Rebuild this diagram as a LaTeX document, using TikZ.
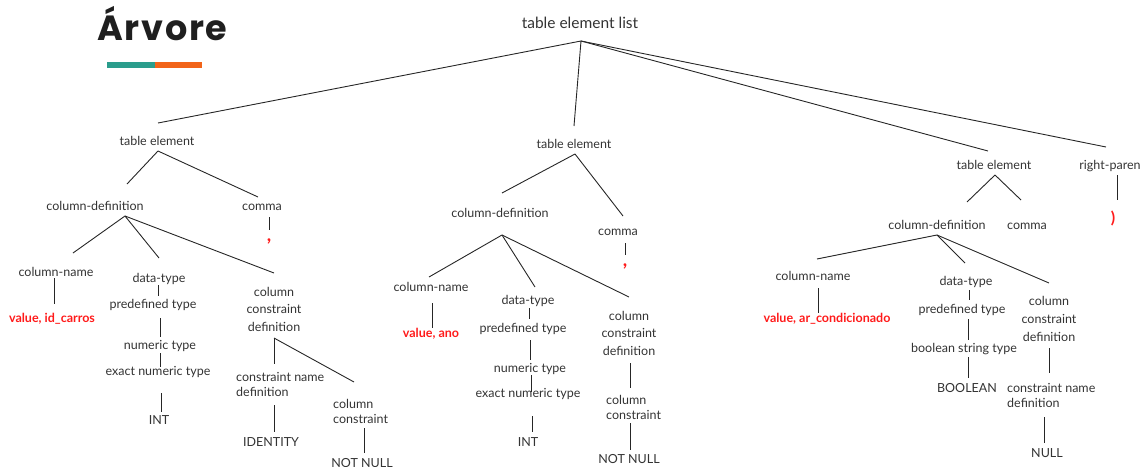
\documentclass[tikz,border=0pt]{standalone}
\usepackage{fontspec}
\setmainfont{Lato}
\newfontfamily\titlefont{Poppins}[LetterSpace=5]
\definecolor{txt}{HTML}{333333}
\definecolor{hot}{HTML}{FF1A1A}
\definecolor{teal}{HTML}{2A9D8C}
\definecolor{tangerine}{HTML}{F26419}
\begin{document}
\begin{tikzpicture}[x=1pt,y=-1pt,
  lbl/.style={inner sep=0pt, anchor=base, text=txt, font=\fontsize{12.5}{15}\selectfont},
  % multi-line labels sit on the baseline of their last line
  multi/.style={lbl, align=center, font=\fontsize{12.5}{#1}\selectfont},
  multil/.style={lbl, align=left, anchor=base west, font=\fontsize{12.5}{#1}\selectfont},
  val/.style={inner sep=0pt, anchor=base, text=hot, font=\fontsize{12.5}{15}\selectfont\bfseries},
  punct/.style={val, font=\fontsize{19}{20}\selectfont\bfseries},
  edge/.style={draw=black!85, line width=0.9pt}]
\useasboundingbox (0,0) rectangle (1145,466);

% heading
\node[inner sep=0pt, anchor=base west, text=black!88, font=\fontsize{35}{40}\selectfont\titlefont\bfseries] (title) at (97,40) {Árvore};
\fill[teal] (107,62) rectangle (155,68);
\fill[tangerine] (155,62) rectangle (202,68);

% root
\node[lbl, font=\fontsize{15.5}{18}\selectfont] (root) at (580,28) {table element list};
\node[lbl] (te1) at (157,145) {table element};
\node[lbl] (te2) at (574,148) {table element};
\node[lbl] (te3) at (994,169) {table element};
\node[lbl] (rp) at (1110,169) {right-paren};
\node[val, font=\fontsize{16}{18}\selectfont\bfseries] (rpv) at (1113,223) {)};

% first table element
\node[lbl] (cd1) at (95,210) {column-definition};
\node[lbl] (cm1) at (262,210) {comma};
\node[punct] (cmv1) at (269,241) {,};
\node[lbl] (cn1) at (56,276) {column-name};
\node[val] (v1) at (52,322) {value, id\_carros};
\node[lbl] (dt1) at (159,282) {data-type};
\node[lbl] (pt1) at (153,308) {predefined type};
\node[lbl] (nt1) at (160,349) {numeric type};
\node[lbl] (ent1) at (158,375) {exact numeric type};
\node[lbl] (int1) at (159,424) {INT};
\node[multi=17.5] (ccd1) at (274,331) {column\\constraint\\definition};
\node[multil=15] (cnd1) at (236,396) {constraint name\\definition};
\node[lbl] (id1) at (271,446) {IDENTITY};
\node[multil=15] (cc1) at (333,423) {column\\constraint};
\node[lbl] (nn1) at (362,467) {NOT NULL};

% second table element
\node[lbl] (cd2) at (500,217) {column-definition};
\node[lbl] (cm2) at (618,235) {comma};
\node[punct] (cmv2) at (625,266) {,};
\node[lbl] (cn2) at (431,291) {column-name};
\node[val] (v2) at (431,337) {value, ano};
\node[lbl] (dt2) at (528,304) {data-type};
\node[lbl] (pt2) at (523,332) {predefined type};
\node[lbl] (nt2) at (530,372) {numeric type};
\node[lbl] (ent2) at (528,397) {exact numeric type};
\node[lbl] (int2) at (528,446) {INT};
\node[multi=17.5] (ccd2) at (629,355) {column\\constraint\\definition};
\node[multil=15] (cc2) at (606,419) {column\\constraint};
\node[lbl] (nn2) at (629,463) {NOT NULL};

% third table element
\node[lbl] (cd3) at (937,229) {column-definition};
\node[lbl] (cm3) at (1027,229) {comma};
\node[lbl] (cn3) at (813,280) {column-name};
\node[val] (v3) at (827,322) {value, ar\_condicionado};
\node[lbl] (dt3) at (966,285) {data-type};
\node[lbl] (pt3) at (962,313) {predefined type};
\node[lbl] (bst3) at (964,352) {boolean string type};
\node[lbl] (bool3) at (967,392) {BOOLEAN};
\node[multi=18] (ccd3) at (1049,341) {column\\constraint\\definition};
\node[multil=15] (cnd3) at (1007,407) {constraint name\\definition};
\node[lbl] (null3) at (1047,457) {NULL};

% connector ends: -i where a branch arrives, -o where branches leave
\coordinate (root-o) at (581,41);
\coordinate (te1-i) at (158,123);  \coordinate (te1-o) at (158,151);
\coordinate (te2-i) at (574,126);  \coordinate (te2-o) at (575,154);
\coordinate (te3-i) at (988,151);  \coordinate (te3-o) at (995,175);
\coordinate (rp-i) at (1106,147);  \coordinate (rp-o) at (1117,175);
\coordinate (rpv-i) at (1117,200);

\coordinate (cd1-i) at (127,184);  \coordinate (cd1-o) at (125,216);
\coordinate (cm1-i) at (258,197);  \coordinate (cm1-o) at (269,217);
\coordinate (cmv1-i) at (269,230);
\coordinate (cn1-i) at (73,253);   \coordinate (cn1-o) at (54,278);
\coordinate (v1-i) at (54,304);
\coordinate (dt1-i) at (159,258);  \coordinate (dt1-o) at (158,285);
\coordinate (pt1-i) at (158,296);  \coordinate (pt1-o) at (160,318);
\coordinate (nt1-i) at (160,337);  \coordinate (nt1-o) at (160,353);
\coordinate (ent1-i) at (160,367); \coordinate (ent1-o) at (161,393);
\coordinate (int1-i) at (161,412);
\coordinate (ccd1-i) at (274,273); \coordinate (ccd1-o) at (274,338);
\coordinate (cnd1-i) at (274,364); \coordinate (cnd1-o) at (274,405);
\coordinate (id1-i) at (274,432);
\coordinate (cc1-i) at (354,382);  \coordinate (cc1-o) at (364,428);
\coordinate (nn1-i) at (364,453);

\coordinate (cd2-i) at (502,193);  \coordinate (cd2-o) at (502,235);
\coordinate (cm2-i) at (623,216);  \coordinate (cm2-o) at (625,243);
\coordinate (cmv2-i) at (625,255);
\coordinate (cn2-i) at (429,277);  \coordinate (cn2-o) at (432,303);
\coordinate (v2-i) at (432,328);
\coordinate (dt2-i) at (535,287);  \coordinate (dt2-o) at (529,308);
\coordinate (pt2-i) at (529,319);  \coordinate (pt2-o) at (530,340);
\coordinate (nt2-i) at (530,360);  \coordinate (nt2-o) at (531,375);
\coordinate (ent2-i) at (531,392); \coordinate (ent2-o) at (532,416);
\coordinate (int2-i) at (532,432);
\coordinate (ccd2-i) at (629,297); \coordinate (ccd2-o) at (630,363);
\coordinate (cc2-i) at (630,388);  \coordinate (cc2-o) at (630,423);
\coordinate (nn2-i) at (630,450);

\coordinate (cd3-i) at (967,202);  \coordinate (cd3-o) at (937,235);
\coordinate (cm3-i) at (1021,200);
\coordinate (cn3-i) at (817,259);  \coordinate (cn3-o) at (818,288);
\coordinate (v3-i) at (818,313);
\coordinate (dt3-i) at (965,263);  \coordinate (dt3-o) at (969,290);
\coordinate (pt3-i) at (969,300);  \coordinate (pt3-o) at (968,319);
\coordinate (bst3-i) at (968,340); \coordinate (bst3-o) at (968,357);
\coordinate (bool3-i) at (968,378);
\coordinate (ccd3-i) at (1049,283); \coordinate (ccd3-o) at (1049,348);
\coordinate (cnd3-i) at (1049,373); \coordinate (cnd3-o) at (1044,417);
\coordinate (null3-i) at (1044,443);

% branches
\foreach \a/\b in {root/te1, root/te2, root/te3, root/rp, rp/rpv,
    te1/cd1, te1/cm1, cm1/cmv1, cd1/cn1, cd1/dt1, cd1/ccd1, cn1/v1,
    dt1/pt1, pt1/nt1, nt1/ent1, ent1/int1, ccd1/cnd1, ccd1/cc1, cnd1/id1, cc1/nn1,
    te2/cd2, te2/cm2, cm2/cmv2, cd2/cn2, cd2/dt2, cd2/ccd2, cn2/v2,
    dt2/pt2, pt2/nt2, nt2/ent2, ent2/int2, ccd2/cc2, cc2/nn2,
    te3/cd3, te3/cm3, cd3/cn3, cd3/dt3, cd3/ccd3, cn3/v3,
    dt3/pt3, pt3/bst3, bst3/bool3, ccd3/cnd3, cnd3/null3}
  \draw[edge] (\a-o) -- (\b-i);
\end{tikzpicture}
\end{document}
